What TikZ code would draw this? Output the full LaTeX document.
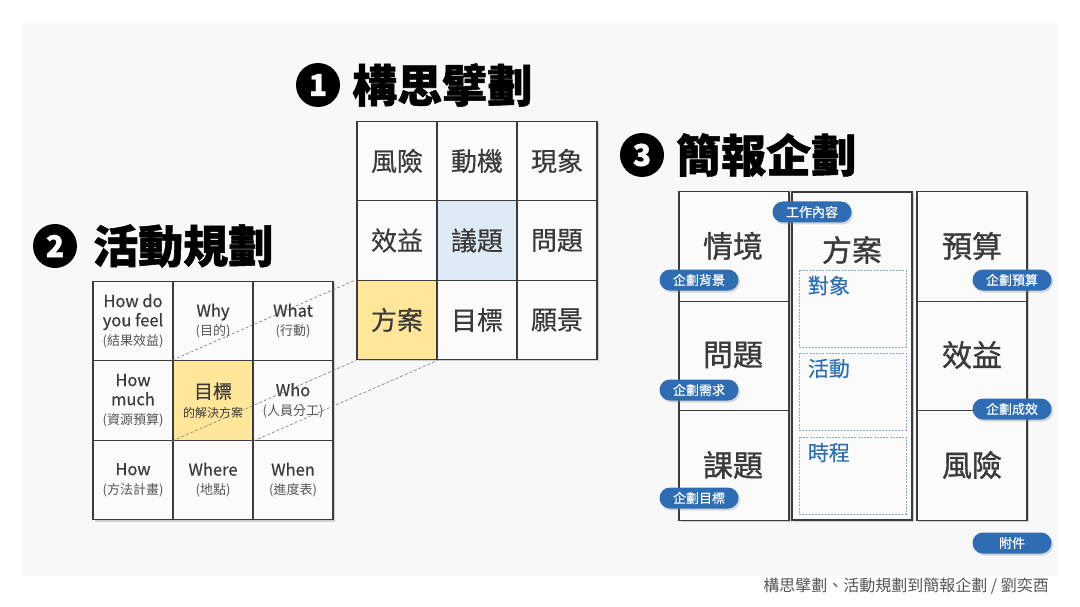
\documentclass[tikz,border=0pt]{standalone}
\usepackage{fontspec}
\setmainfont{Noto Sans CJK TC}
\newfontfamily\medfont{Noto Sans CJK TC}[FakeBold=0.4]
\newfontfamily\heavyfont{Noto Sans CJK TC}[FakeBold=1.0]
\newfontfamily\titlefont{Noto Sans CJK TC}[BoldFeatures={FakeBold=1.2}]
\usetikzlibrary{positioning,shadows}
\definecolor{bggray}{HTML}{F8F8F8}
\definecolor{cellwhite}{HTML}{FBFBFB}
\definecolor{linegray}{HTML}{3C3C3C}
\definecolor{textgray}{HTML}{3A3A3A}
\definecolor{subgray}{HTML}{555555}
\definecolor{goalyellow}{HTML}{FFE699}
\definecolor{issueblue}{HTML}{DEEAF6}
\definecolor{pillblue}{HTML}{2E6DB4}
\definecolor{boxblue}{HTML}{2E6FB2}
\definecolor{dashblue}{HTML}{8DA5BE}
\definecolor{captiongray}{HTML}{555555}
\newcommand{\enline}{\medfont\fontsize{16.5}{19.2}\selectfont}
\newcommand{\zhline}{\normalfont\fontsize{13}{19.2}\selectfont\color{subgray}}
\tikzset{
  numdot/.style={circle, fill=black, text=white, minimum size=44pt, inner sep=0pt,
    font=\titlefont\fontsize{30}{30}\selectfont\bfseries},
  titletext/.style={anchor=west, inner sep=0pt, text=black,
    font=\titlefont\fontsize{45}{45}\selectfont\bfseries},
  gridshadow/.style={draw=none, fill=cellwhite, inner sep=0pt,
    drop shadow={shadow xshift=2pt, shadow yshift=-2pt, opacity=0.35}},
  thinkcell/.style={draw=linegray, line width=1.3pt, fill=cellwhite, inner sep=0pt,
    minimum width=80pt, minimum height=79.5pt, text=textgray,
    font=\medfont\fontsize{26}{26}\selectfont},
  wcell/.style={draw=linegray, line width=1.3pt, fill=cellwhite, inner sep=0pt,
    minimum width=80pt, minimum height=79.5pt, align=center, text=textgray,
    font=\enline},
  briefcell/.style={draw=linegray, line width=1.3pt, fill=cellwhite, inner sep=0pt,
    minimum width=110pt, minimum height=109.5pt},
  bigword/.style={inner sep=0pt, text=textgray, font=\heavyfont\fontsize{30}{30}\selectfont},
  partbox/.style={draw=dashblue, line width=0.7pt, dash pattern=on 2pt off 1.2pt,
    inner sep=0pt, minimum width=107pt, minimum height=77pt},
  partword/.style={inner sep=0pt, anchor=north west, text=boxblue,
    font=\medfont\fontsize{21}{21}\selectfont},
  pill/.style={fill=pillblue, text=white, rounded corners=10.5pt, inner sep=0pt,
    minimum width=79pt, minimum height=21pt, font=\medfont\fontsize{13}{13}\selectfont,
    drop shadow={shadow xshift=1.5pt, shadow yshift=-2pt, opacity=0.3}},
  link/.style={draw=subgray!80, line width=0.6pt, dash pattern=on 3pt off 2pt}
}
\begin{document}
\begin{tikzpicture}[x=1pt,y=-1pt]
  \useasboundingbox (0,0) rectangle (1080,607);
  % Background
  \fill[white] (0,0) rectangle (1080,607);%
  \fill[bggray] (22,23) rectangle (1058,576);%

  % Title 1
  \node[numdot] (num1) at (318,85) {1};%
  \node[titletext] (title1) at (352,85) {構思擘劃};%

  % Title 2
  \node[numdot] (num2) at (55,246) {2};%
  \node[titletext] (title2) at (93,246) {活動規劃};%

  % Title 3
  \node[numdot] (num3) at (642,155) {3};%
  \node[titletext] (title3) at (676,155) {簡報企劃};%

  % Grid 1: thinking
  \node[gridshadow, minimum width=240pt, minimum height=238pt] (thinkgrid) at (477,240) {};%
  \node[thinkcell] (risk1) at (397,161) {風險};%
  \node[thinkcell] (motive) at (477,161) {動機};%
  \node[thinkcell] (phenom) at (557,161) {現象};%
  \node[thinkcell] (benefit1) at (397,240.5) {效益};%
  \node[thinkcell, fill=issueblue] (issue) at (477,240.5) {議題};%
  \node[thinkcell] (problem1) at (557,240.5) {問題};%
  \node[thinkcell, fill=goalyellow] (plan1) at (397,320) {方案};%
  \node[thinkcell] (goal1) at (477,320) {目標};%
  \node[thinkcell] (vision) at (557,320) {願景};%

  % Grid 2: activity
  \node[gridshadow, minimum width=240pt, minimum height=239pt] (wgrid) at (213,400.5) {};%
  \node[wcell] (feel) at (133,321) {How do\\you feel\\\zhline (結果效益)};%
  \node[wcell] (why) at (213,321) {Why\\\zhline (目的)};%
  \node[wcell] (what) at (293,321) {What\\\zhline (行動)};%
  \node[wcell] (much) at (133,400.5) {How\\much\\\zhline (資源預算)};%
  \node[wcell, fill=goalyellow] (target) at (213,400.5) {\fontsize{19}{19.2}\selectfont 目標\\\normalfont\fontsize{12}{19.2}\selectfont 的解決方案};%
  \node[wcell] (who) at (293,400.5) {Who\\\zhline (人員分工)};%
  \node[wcell] (how) at (133,480) {How\\\zhline (方法計畫)};%
  \node[wcell] (where) at (213,480) {Where\\\zhline (地點)};%
  \node[wcell] (when) at (293,480) {When\\\zhline (進度表)};%

  % Dashed links from grid 2 to grid 1
  \draw[link] (target.north west) -- (plan1.north west);%
  \draw[link] (target.south west) -- (plan1.south west);%
  \draw[link] (target.south east) -- (plan1.south east);%

  % Grid 3: briefing, left column
  \node[gridshadow, minimum width=110pt, minimum height=328pt] (leftcol) at (734,356) {};%
  \node[briefcell] (situation) at (734,246.5) {};%
  \node[briefcell] (problem) at (734,356) {};%
  \node[briefcell] (subject) at (734,465.5) {};%
  \node[bigword] at (733,246) {情境};%
  \node[bigword] at (733,355) {問題};%
  \node[bigword] at (733,465) {課題};%

  % Grid 3: middle column
  \node[gridshadow, minimum width=120pt, minimum height=328pt] (midshadow) at (852,356) {};%
  \node[briefcell, minimum width=120pt, minimum height=328pt] (plan) at (852,356) {};%
  \node[bigword] (planword) at (852,250) {方案};%
  \node[partbox] (audience) at (852.5,308.5) {};%
  \node[partbox] (activity) at (852.5,391.5) {};%
  \node[partbox] (schedule) at (852.5,475.5) {};%
  \node[partword, below right=6pt and 9pt of audience.north west] {對象};%
  \node[partword, below right=6pt and 9pt of activity.north west] {活動};%
  \node[partword, below right=6pt and 9pt of schedule.north west] {時程};%

  % Grid 3: right column
  \node[gridshadow, minimum width=110pt, minimum height=328pt] (rightcol) at (972,356) {};%
  \node[briefcell] (budget) at (972,246.5) {};%
  \node[briefcell] (benefit) at (972,356) {};%
  \node[briefcell] (risk) at (972,465.5) {};%
  \node[bigword] at (972,246) {預算};%
  \node[bigword] at (972,355) {效益};%
  \node[bigword] at (972,465) {風險};%

  % Pills
  \node[pill] (work) at (812,212) {工作內容};%
  \node[pill] (background) at (699,280) {企劃背景};%
  \node[pill] (needs) at (699,390) {企劃需求};%
  \node[pill] (goal) at (699,498) {企劃目標};%
  \node[pill] (costs) at (1012,280) {企劃預算};%
  \node[pill] (effect) at (1012,409) {企劃成效};%
  \node[pill] (appendix) at (1012,543) {附件};%

  % Caption
  \node[anchor=east, inner sep=0pt, text=captiongray, font=\fontsize{16}{16}\selectfont]
    (caption) at (1049,586) {構思擘劃、活動規劃到簡報企劃 / 劉奕酉};%
\end{tikzpicture}
\end{document}
